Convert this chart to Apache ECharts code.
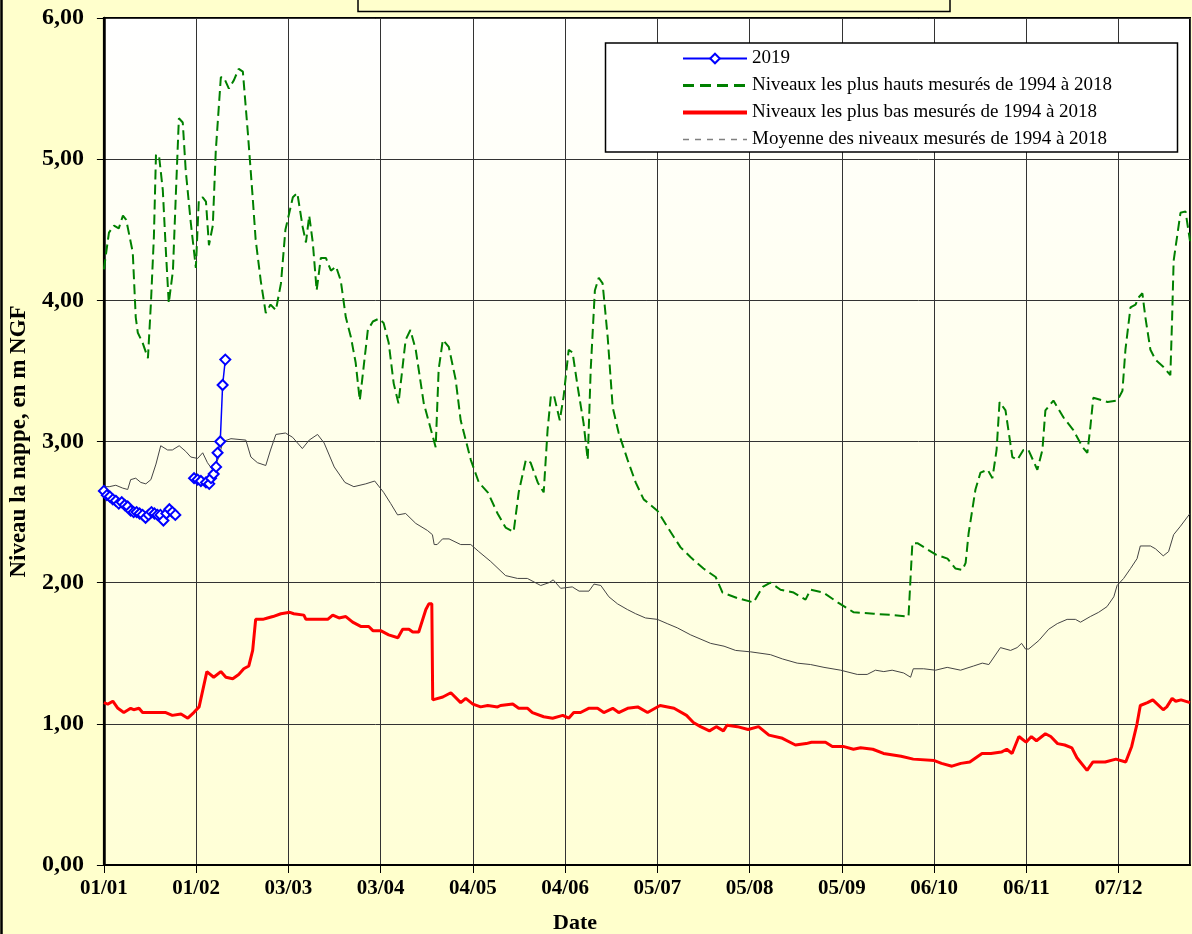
<!DOCTYPE html>
<html>
<head>
<meta charset="utf-8">
<script src="https://cdn.jsdelivr.net/npm/echarts@6/dist/echarts.min.js"></script>
<style>
  html, body { margin: 0; padding: 0; background: #FFFFCC; }
  #chart { width: 1192px; height: 934px; }
</style>
</head>
<body>
<div id="chart"></div>
<script>
// [jour de l'année, niveau en m NGF]
var annee2019 = [
    [0, 2.65], [1, 2.62], [2, 2.61], [3, 2.59], [4, 2.58], [5, 2.56], [6, 2.57], [7, 2.55],
    [8, 2.54], [9, 2.51], [10, 2.50], [11, 2.50], [12, 2.49], [13, 2.48], [14, 2.46], [15, 2.48],
    [16, 2.50], [17, 2.49], [18, 2.48], [19, 2.48], [20, 2.44], [21, 2.49], [22, 2.52], [23, 2.50],
    [24, 2.48], [27, null],
    [30.3, 2.74], [31.5, 2.73], [32.6, 2.72], [34.3, 2.71], [35.4, 2.70], [36, 2.74],
    [36.9, 2.77], [37.7, 2.82], [38.2, 2.92], [39.1, 3.00], [39.9, 3.40], [40.8, 3.58]
];

var plusHauts = [
    [0, 4.22], [1.7, 4.48], [3.4, 4.53], [5, 4.51], [6.4, 4.60], [7.5, 4.57], [9.7, 4.34], [10.7, 3.88],
    [11.4, 3.77], [13, 3.70], [14.8, 3.59], [15.8, 3.98], [16.8, 4.45], [17.5, 5.03], [18.5, 5.03],
    [19.8, 4.78], [20.8, 4.36], [21.8, 3.98], [23.2, 4.21], [24.2, 4.76], [25.2, 5.29], [26.5, 5.26],
    [27.5, 4.92], [29.2, 4.55], [30.9, 4.23], [31.9, 4.71], [33.2, 4.73], [34.3, 4.70], [35.3, 4.39],
    [36.6, 4.53], [37.6, 5.06], [39.3, 5.58], [40.3, 5.58], [42, 5.50], [43.7, 5.56], [45.3, 5.64],
    [46.7, 5.62], [48.4, 5.18], [50, 4.73], [51, 4.43], [52.7, 4.14], [54.4, 3.91], [56, 3.97],
    [57.8, 3.93], [59.5, 4.12], [61, 4.50], [63.5, 4.73], [65, 4.76], [66.8, 4.52], [67.9, 4.41],
    [69, 4.60], [70.2, 4.41], [71.5, 4.07], [72.9, 4.30], [74.6, 4.30], [76.3, 4.21], [78, 4.24],
    [79.6, 4.14], [81.3, 3.88], [83, 3.74], [84.6, 3.56], [86, 3.29], [87.3, 3.53], [88.7, 3.79],
    [90.4, 3.85], [92.4, 3.87], [94, 3.84], [95.7, 3.70], [97.4, 3.41], [99, 3.27], [101.4, 3.72],
    [103, 3.79], [104.8, 3.65], [107.5, 3.27], [111.5, 2.96], [112.5, 3.51], [113.9, 3.72],
    [115.9, 3.67], [118.2, 3.44], [119.9, 3.15], [121.6, 3.01], [123.3, 2.87], [126, 2.71],
    [129, 2.64], [132.3, 2.49], [135, 2.39], [137.7, 2.36], [139.4, 2.64], [141.8, 2.87],
    [143.4, 2.85], [145.8, 2.71], [147.8, 2.64], [149.1, 3.08], [150.2, 3.32], [151.2, 3.33],
    [153.2, 3.15], [154.5, 3.32], [156.2, 3.65], [157.5, 3.63], [159.2, 3.39], [161.2, 3.13],
    [162.6, 2.87], [163.6, 3.51], [165, 4.07], [166.3, 4.16], [167.6, 4.12], [169.3, 3.74],
    [171, 3.24], [173, 3.06], [176, 2.87], [178.7, 2.71], [181.4, 2.59], [186, 2.51], [189.5, 2.39],
    [193.8, 2.25], [197.2, 2.18], [201.5, 2.10], [205.6, 2.04], [207.9, 1.93], [213, 1.89],
    [218.3, 1.86], [221.4, 1.97], [224, 2.00], [227.4, 1.95], [231.8, 1.93], [235.8, 1.88],
    [237.5, 1.95], [241.8, 1.93], [246.6, 1.86], [252, 1.79], [258.7, 1.78], [265.4, 1.77],
    [270.4, 1.76], [271.7, 2.28], [273.4, 2.28], [279.5, 2.20], [283.5, 2.17], [286.2, 2.10],
    [288.5, 2.09], [289.6, 2.14], [290.6, 2.35], [292.9, 2.66], [294.6, 2.78], [297, 2.80],
    [298.6, 2.74], [300, 2.94], [301, 3.28], [303, 3.22], [305.3, 2.89], [307, 2.87], [309, 2.94],
    [310.7, 2.94], [313.7, 2.80], [315.4, 2.94], [316.4, 3.22], [319.1, 3.29], [322.5, 3.17],
    [325.8, 3.08], [328.9, 2.96], [330.5, 2.92], [331.5, 3.10], [332.5, 3.31], [337.3, 3.28],
    [340.6, 3.29], [342.3, 3.36], [343.3, 3.65], [345, 3.95], [346.7, 3.97], [347.7, 4.02],
    [349, 4.05], [350, 3.88], [351.7, 3.65], [353.4, 3.58], [356, 3.53], [358.4, 3.47], [359, 3.88],
    [359.5, 4.28], [361.8, 4.62], [363.5, 4.63], [365, 4.42]
];

var plusBas = [
    [0, 1.15], [1.3, 1.14], [3, 1.16], [4.7, 1.11], [6.7, 1.08], [9, 1.11], [10, 1.10], [11.8, 1.11],
    [13, 1.08], [20.8, 1.08], [23, 1.06], [25.9, 1.07], [28.2, 1.04], [30.2, 1.08], [32, 1.12],
    [34.6, 1.37], [36.9, 1.33], [39.3, 1.37], [41, 1.33], [43.3, 1.32], [45.3, 1.35], [47, 1.39],
    [48.7, 1.41], [50, 1.52], [51, 1.74], [53.4, 1.74], [55, 1.75], [56.8, 1.76], [59.5, 1.78],
    [62.5, 1.79], [63.8, 1.78], [67.2, 1.77], [67.9, 1.74], [75.2, 1.74], [76.9, 1.77], [79, 1.75],
    [81.3, 1.76], [83.6, 1.72], [86.3, 1.69], [89, 1.69], [90.4, 1.66], [93, 1.66], [95.7, 1.63],
    [98.8, 1.61], [100.4, 1.67], [102.5, 1.67], [103.8, 1.65], [105.8, 1.65], [108.2, 1.81],
    [109.2, 1.85], [110.2, 1.85], [110.5, 1.17], [113.9, 1.19], [116.6, 1.22], [119.9, 1.15],
    [121.6, 1.18], [124, 1.14], [126.6, 1.12], [129, 1.13], [132.3, 1.12], [133.3, 1.13],
    [137.4, 1.14], [139.4, 1.11], [142.4, 1.11], [144, 1.08], [147.8, 1.05], [150.8, 1.04],
    [154.2, 1.06], [156.2, 1.04], [157.9, 1.08], [160.2, 1.08], [162.9, 1.11], [165.9, 1.11],
    [168, 1.08], [171, 1.11], [173, 1.08], [176, 1.11], [179.4, 1.12], [182.7, 1.08], [186.9, 1.13],
    [191.6, 1.11], [195.8, 1.06], [198.1, 1.01], [200.5, 0.98], [203.5, 0.95], [205.8, 0.98],
    [208.2, 0.95], [209.4, 0.99], [212.9, 0.98], [216.5, 0.96], [220, 0.98], [223.5, 0.92],
    [227.7, 0.90], [232.4, 0.85], [236, 0.86], [237.8, 0.87], [242.5, 0.87], [244.8, 0.84],
    [248.4, 0.84], [251.9, 0.82], [254.3, 0.83], [258.4, 0.82], [262, 0.79], [267.9, 0.77],
    [272, 0.75], [279.1, 0.74], [281.5, 0.72], [285, 0.70], [288, 0.72], [291, 0.73], [295.1, 0.79],
    [298.1, 0.79], [301.6, 0.80], [303.4, 0.82], [305.2, 0.79], [307.5, 0.91], [309.9, 0.87],
    [311.7, 0.91], [313.4, 0.88], [316.4, 0.93], [318.2, 0.91], [320.5, 0.86], [322.9, 0.85],
    [325.3, 0.83], [327, 0.76], [330.4, 0.67], [332.4, 0.73], [336.5, 0.73], [340.1, 0.75],
    [343.4, 0.73], [345.4, 0.84], [347.2, 1.00], [348.3, 1.13], [350.7, 1.15], [352.5, 1.17],
    [356, 1.10], [357.2, 1.12], [359, 1.18], [360.2, 1.16], [362, 1.17], [365, 1.15]
];

var moyenne = [
    [0, 2.68], [1.8, 2.68], [4, 2.69], [6.3, 2.67], [8, 2.66], [9, 2.73], [10.7, 2.74], [12.4, 2.71],
    [14.1, 2.70], [15.8, 2.73], [17.5, 2.84], [19.1, 2.97], [21.4, 2.94], [23, 2.94], [25.3, 2.97],
    [27.5, 2.93], [29.2, 2.89], [31.5, 2.88], [33.2, 2.92], [34.8, 2.85], [36.5, 2.80], [38.5, 2.88],
    [40, 3.00], [42.7, 3.02], [47.7, 3.01], [49.4, 2.89], [51.6, 2.85], [54.4, 2.83], [56, 2.94],
    [57.8, 3.05], [61, 3.06], [63.4, 3.03], [66.7, 2.95], [69, 3.01], [71.8, 3.05], [74, 2.99],
    [77.4, 2.82], [81, 2.71], [84, 2.68], [88, 2.70], [91, 2.72], [94, 2.64], [96.4, 2.56],
    [98.7, 2.48], [101.4, 2.49], [104.8, 2.42], [108.7, 2.37], [110.4, 2.34], [111, 2.27],
    [112, 2.27], [113.8, 2.31], [116, 2.31], [119.9, 2.27], [123.3, 2.27], [126, 2.22], [130, 2.15],
    [135, 2.05], [139, 2.03], [142.3, 2.03], [146.8, 1.98], [149.6, 2.00], [151, 2.02], [153.5, 1.96],
    [157.4, 1.97], [159.7, 1.94], [163, 1.94], [164.7, 1.99], [167, 1.98], [169.7, 1.90],
    [172.6, 1.85], [175.9, 1.81], [178.7, 1.78], [182, 1.75], [186, 1.74], [189.3, 1.71],
    [192.7, 1.68], [197.2, 1.63], [203.9, 1.57], [208.4, 1.55], [212.3, 1.52], [217.3, 1.51],
    [224, 1.49], [228, 1.46], [233, 1.43], [237.5, 1.42], [242, 1.40], [247.6, 1.38], [253.2, 1.35],
    [256.5, 1.35], [259.3, 1.38], [262.1, 1.37], [264.9, 1.38], [268.8, 1.36], [271.1, 1.33],
    [272, 1.39], [275.5, 1.39], [279.5, 1.38], [283.4, 1.40], [287.9, 1.38], [292.3, 1.41],
    [295.2, 1.43], [297.4, 1.42], [301.3, 1.54], [304.7, 1.52], [306.9, 1.54], [308.4, 1.57],
    [309.7, 1.53], [310.8, 1.53], [314.2, 1.59], [317.5, 1.67], [320.4, 1.71], [323.7, 1.74],
    [326.5, 1.74], [328.2, 1.72], [331.5, 1.76], [334.3, 1.79], [337.1, 1.83], [339.4, 1.90],
    [340.5, 1.98], [342.7, 2.03], [345, 2.10], [347.2, 2.17], [348.3, 2.26], [351.7, 2.26],
    [353.4, 2.24], [356, 2.19], [357.8, 2.22], [359.5, 2.34], [361.8, 2.40], [365, 2.49]
];

var nomsSeries = [
    '2019',
    'Niveaux les plus hauts mesurés de 1994 à 2018',
    'Niveaux les plus bas mesurés de 1994 à 2018',
    'Moyenne des niveaux mesurés de 1994 à 2018'
];

var serif = '"Liberation Serif", "Times New Roman", serif';

function versDate(jour) {
    // année bissextile : 01/02, 03/03, 03/04 ... 07/12
    var d = new Date(Date.UTC(2020, 0, 1) + Math.round(jour) * 86400000);
    var jj = ('0' + d.getUTCDate()).slice(-2);
    var mm = ('0' + (d.getUTCMonth() + 1)).slice(-2);
    return jj + '/' + mm;
}

function sansTrous(data) {
    return data.map(function (p) { return [p[0], p[1] === null ? '-' : p[1]]; });
}

var sansSymbole = { opacity: 0, borderWidth: 0 };

var myChart = echarts.init(document.getElementById('chart'));

var option = {
    animation: false,
    backgroundColor: '#FFFFCC',
    grid: {
        left: 103,
        right: 2,
        top: 18,
        bottom: 69,
        show: true,
        borderColor: '#000',
        borderWidth: 2,
        backgroundColor: new echarts.graphic.LinearGradient(0, 0, 0, 1, [
            { offset: 0, color: '#FFFFFF' },
            { offset: 1, color: '#FFFFD6' }
        ])
    },
    legend: {
        orient: 'vertical',
        left: 681,
        top: 49,
        padding: 0,
        z: 20,
        itemWidth: 64,
        itemHeight: 12,
        itemGap: 8,
        textStyle: { fontFamily: serif, fontSize: 19, color: '#000', lineHeight: 18 },
        data: [
            { name: nomsSeries[0], lineStyle: { width: 2 } },
            { name: nomsSeries[1], itemStyle: sansSymbole, lineStyle: { width: 3, type: [11, 6] } },
            { name: nomsSeries[2], itemStyle: sansSymbole, lineStyle: { width: 4 } },
            { name: nomsSeries[3], itemStyle: sansSymbole, lineStyle: { type: [6, 6], color: '#808080', width: 1.5 } }
        ]
    },
    xAxis: {
        type: 'value',
        min: 0,
        max: 365,
        interval: 31,
        axisLine: { lineStyle: { color: '#000', width: 2 } },
        axisTick: { show: true, length: 8, lineStyle: { color: '#000' } },
        axisLabel: {
            margin: 13,
            fontFamily: serif,
            fontSize: 21,
            fontWeight: 'bold',
            color: '#000',
            showMaxLabel: false,
            formatter: function (v) { return v % 31 === 0 ? versDate(v) : ''; }
        },
        splitLine: { show: true, lineStyle: { color: '#333', width: 1 } }
    },
    yAxis: {
        type: 'value',
        min: 0,
        max: 6,
        interval: 1,
        name: 'Niveau la nappe, en m NGF',
        nameLocation: 'middle',
        nameGap: 70,
        nameTextStyle: { fontFamily: serif, fontSize: 23, fontWeight: 'bold', color: '#000' },
        axisLine: { show: true, lineStyle: { color: '#000', width: 2.5 } },
        axisTick: { show: true, length: 7, lineStyle: { color: '#000' } },
        axisLabel: {
            margin: 20,
            fontFamily: serif,
            fontSize: 24,
            fontWeight: 'bold',
            color: '#000',
            formatter: function (v) { return v.toFixed(2).replace('.', ','); }
        },
        splitLine: { show: true, lineStyle: { color: '#333', width: 1 } }
    },
    graphic: [
        {
            type: 'rect',
            shape: { x: 1.5, y: -10, width: 2000, height: 2000 },
            style: { fill: 'none', stroke: '#000', lineWidth: 2.5 },
            silent: true
        },
        {
            type: 'rect',
            shape: { x: 358, y: -6, width: 592, height: 17.5 },
            style: { fill: '#FFFFCC', stroke: '#000', lineWidth: 1.5 },
            silent: true
        },
        {
            type: 'rect',
            shape: { x: 605.5, y: 43, width: 572, height: 109 },
            style: { fill: '#FFFFFF', stroke: '#000', lineWidth: 1.5 },
            z: 10,
            silent: true
        },
        {
            type: 'text',
            left: 553,
            top: 912,
            style: { text: 'Date', font: 'bold 22px ' + serif, fill: '#000' }
        }
    ],
    series: [
        {
            name: nomsSeries[0],
            type: 'line',
            data: sansTrous(annee2019),
            symbol: 'emptyDiamond',
            symbolSize: 10,
            connectNulls: false,
            lineStyle: { color: '#0000FF', width: 1.5 },
            itemStyle: { color: '#0000FF', borderWidth: 1.3 },
            z: 6
        },
        {
            name: nomsSeries[1],
            type: 'line',
            data: plusHauts,
            symbol: 'none',
            lineStyle: { color: '#008000', width: 2, type: [10, 5] },
            itemStyle: { color: '#008000' },
            z: 4
        },
        {
            name: nomsSeries[2],
            type: 'line',
            data: plusBas,
            symbol: 'none',
            lineStyle: { color: '#FF0000', width: 3 },
            itemStyle: { color: '#FF0000' },
            z: 4
        },
        {
            name: nomsSeries[3],
            type: 'line',
            data: moyenne,
            symbol: 'none',
            lineStyle: { color: '#444444', width: 1 },
            itemStyle: { color: '#808080' },
            z: 3
        }
    ]
};

myChart.setOption(option);
window.addEventListener('resize', function () {
    myChart.resize();
});
</script>
</body>
</html>
